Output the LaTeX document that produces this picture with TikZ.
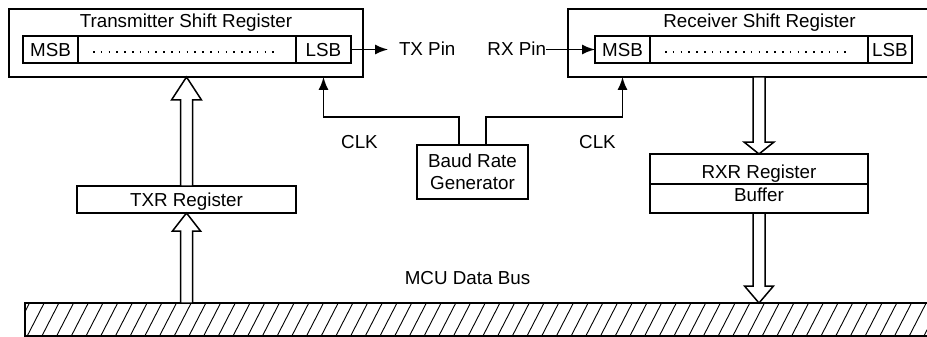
\documentclass[tikz,border=0pt]{standalone}
\usepackage{fontspec}
\setmainfont{Liberation Sans}
\usetikzlibrary{arrows.meta,calc}
\begin{document}
\begin{tikzpicture}[x=1pt,y=-1pt, line width=1.5pt,
  font=\fontsize{18.8}{22.5}\selectfont,
  box/.style={draw, inner sep=0pt, outer sep=0pt},
  cell/.style={box, minimum height=27pt, text height=13.6pt, text depth=0pt},
  lbl/.style={inner sep=0pt, outer sep=0pt},
  arr/.style={-{Latex[length=13pt,width=10pt]}},
  dotline/.style={line width=1.6pt, dash pattern=on 1.5pt off 6.3pt},
  blockarr/.style={draw, fill=white, line width=1.5pt, line join=miter},
  hatch/.style={line width=0.9pt}
]
\clip (0,0) rectangle (927,337);

% Transmitter shift register
\node[box, minimum width=354pt, minimum height=68pt] (tsr) at (186,43) {};
\node[lbl, anchor=base] (tsrtitle) at (186,28) {Transmitter Shift Register};
\node[cell, minimum width=55pt] (tmsb) at (50.5,49.5) {MSB};
\node[cell, minimum width=218pt] (tdots) at (187,49.5) {};
\node[cell, minimum width=55pt] (tlsb) at (323.5,49.5) {LSB};
\draw[dotline] ([xshift=15pt,yshift=-2.5pt]tdots.west) -- ([xshift=-16pt,yshift=-2.5pt]tdots.east);
\node[lbl, anchor=base west] (txpin) at (399,55.5) {TX Pin};
\draw[arr, shorten >=11pt] (tlsb.east) -- (tlsb.east -| txpin.west);

% Receiver shift register
\node[box, minimum width=382pt, minimum height=68pt] (rsr) at (759,43) {};
\node[lbl, anchor=base] (rsrtitle) at (759.5,28) {Receiver Shift Register};
\node[cell, minimum width=55pt] (rmsb) at (622.5,49.5) {MSB};
\node[cell, minimum width=218pt] (rdots) at (759,49.5) {};
\node[cell, minimum width=44pt] (rlsb) at (890,49.5) {LSB};
\draw[dotline] ([xshift=15pt,yshift=-2.5pt]rdots.west) -- ([xshift=-16pt,yshift=-2.5pt]rdots.east);
\node[lbl, anchor=base east] (rxpin) at (546,55.5) {RX Pin};
\draw[arr] (rmsb.west -| rxpin.east) -- (rmsb.west);

% Baud rate generator and clocks
\node[box, minimum width=111pt, minimum height=54pt, align=center] (baud) at (472.5,172) {Baud Rate\\Generator};
\draw[arr] ([xshift=-13.5pt]baud.north) -- ++(0,-28) -| (tlsb.south |- tsr.south);
\draw[arr] ([xshift=13.5pt]baud.north) -- ++(0,-28) -| (rmsb.south |- rsr.south);
\node[lbl, anchor=base] (clka) at (359.5,148.3) {CLK};
\node[lbl, anchor=base] (clkb) at (597.5,148.3) {CLK};

% Registers
\node[cell, minimum width=219pt] (txr) at (186.5,199.5) {TXR Register};
\node[box, minimum width=218pt, minimum height=59pt, align=center] (rxr) at (759,183.5) {RXR Register\\Buffer};
\draw ([yshift=-0.5pt]rxr.west) -- ([yshift=-0.5pt]rxr.east);

% Data bus
\node[lbl, anchor=base] (mcu) at (467.5,284) {MCU Data Bus};
\node[box, minimum width=925pt, minimum height=33pt] (bus) at (487.5,319.5) {};
\begin{scope}
  \clip (bus.north west) rectangle (bus.south east);
  \foreach \i in {0,...,64}
    \draw[hatch] ({12+\i*14.7},337) -- ++(18,-35);
\end{scope}
\node[box, minimum width=925pt, minimum height=33pt] at (bus.center) {};

% Block arrows
\draw[blockarr] ([xshift=-6pt]txr.north) -- ++(0,-86) -- ++(-9,0) -- (txr.north |- tsr.south)
  -- ++(15,23) -- ++(-9,0) -- ([xshift=6pt]txr.north) -- cycle;
\draw[blockarr] ([xshift=-6pt]txr.south |- bus.north) -- ++(0,-72) -- ++(-8,0) -- (txr.south)
  -- ++(14,18) -- ++(-8,0) -- ([xshift=6pt]txr.south |- bus.north) -- cycle;
\draw[blockarr] ([xshift=-6pt]rxr.north |- rsr.south) -- ++(0,65) -- ++(-9,0) -- (rxr.north)
  -- ++(15,-12) -- ++(-9,0) -- ([xshift=6pt]rxr.north |- rsr.south) -- cycle;
\draw[blockarr] ([xshift=-6pt]rxr.south) -- ++(0,73) -- ++(-8.5,0) -- (rxr.south |- bus.north)
  -- ++(14.5,-17) -- ++(-8.5,0) -- ([xshift=6pt]rxr.south) -- cycle;
\end{tikzpicture}
\end{document}
